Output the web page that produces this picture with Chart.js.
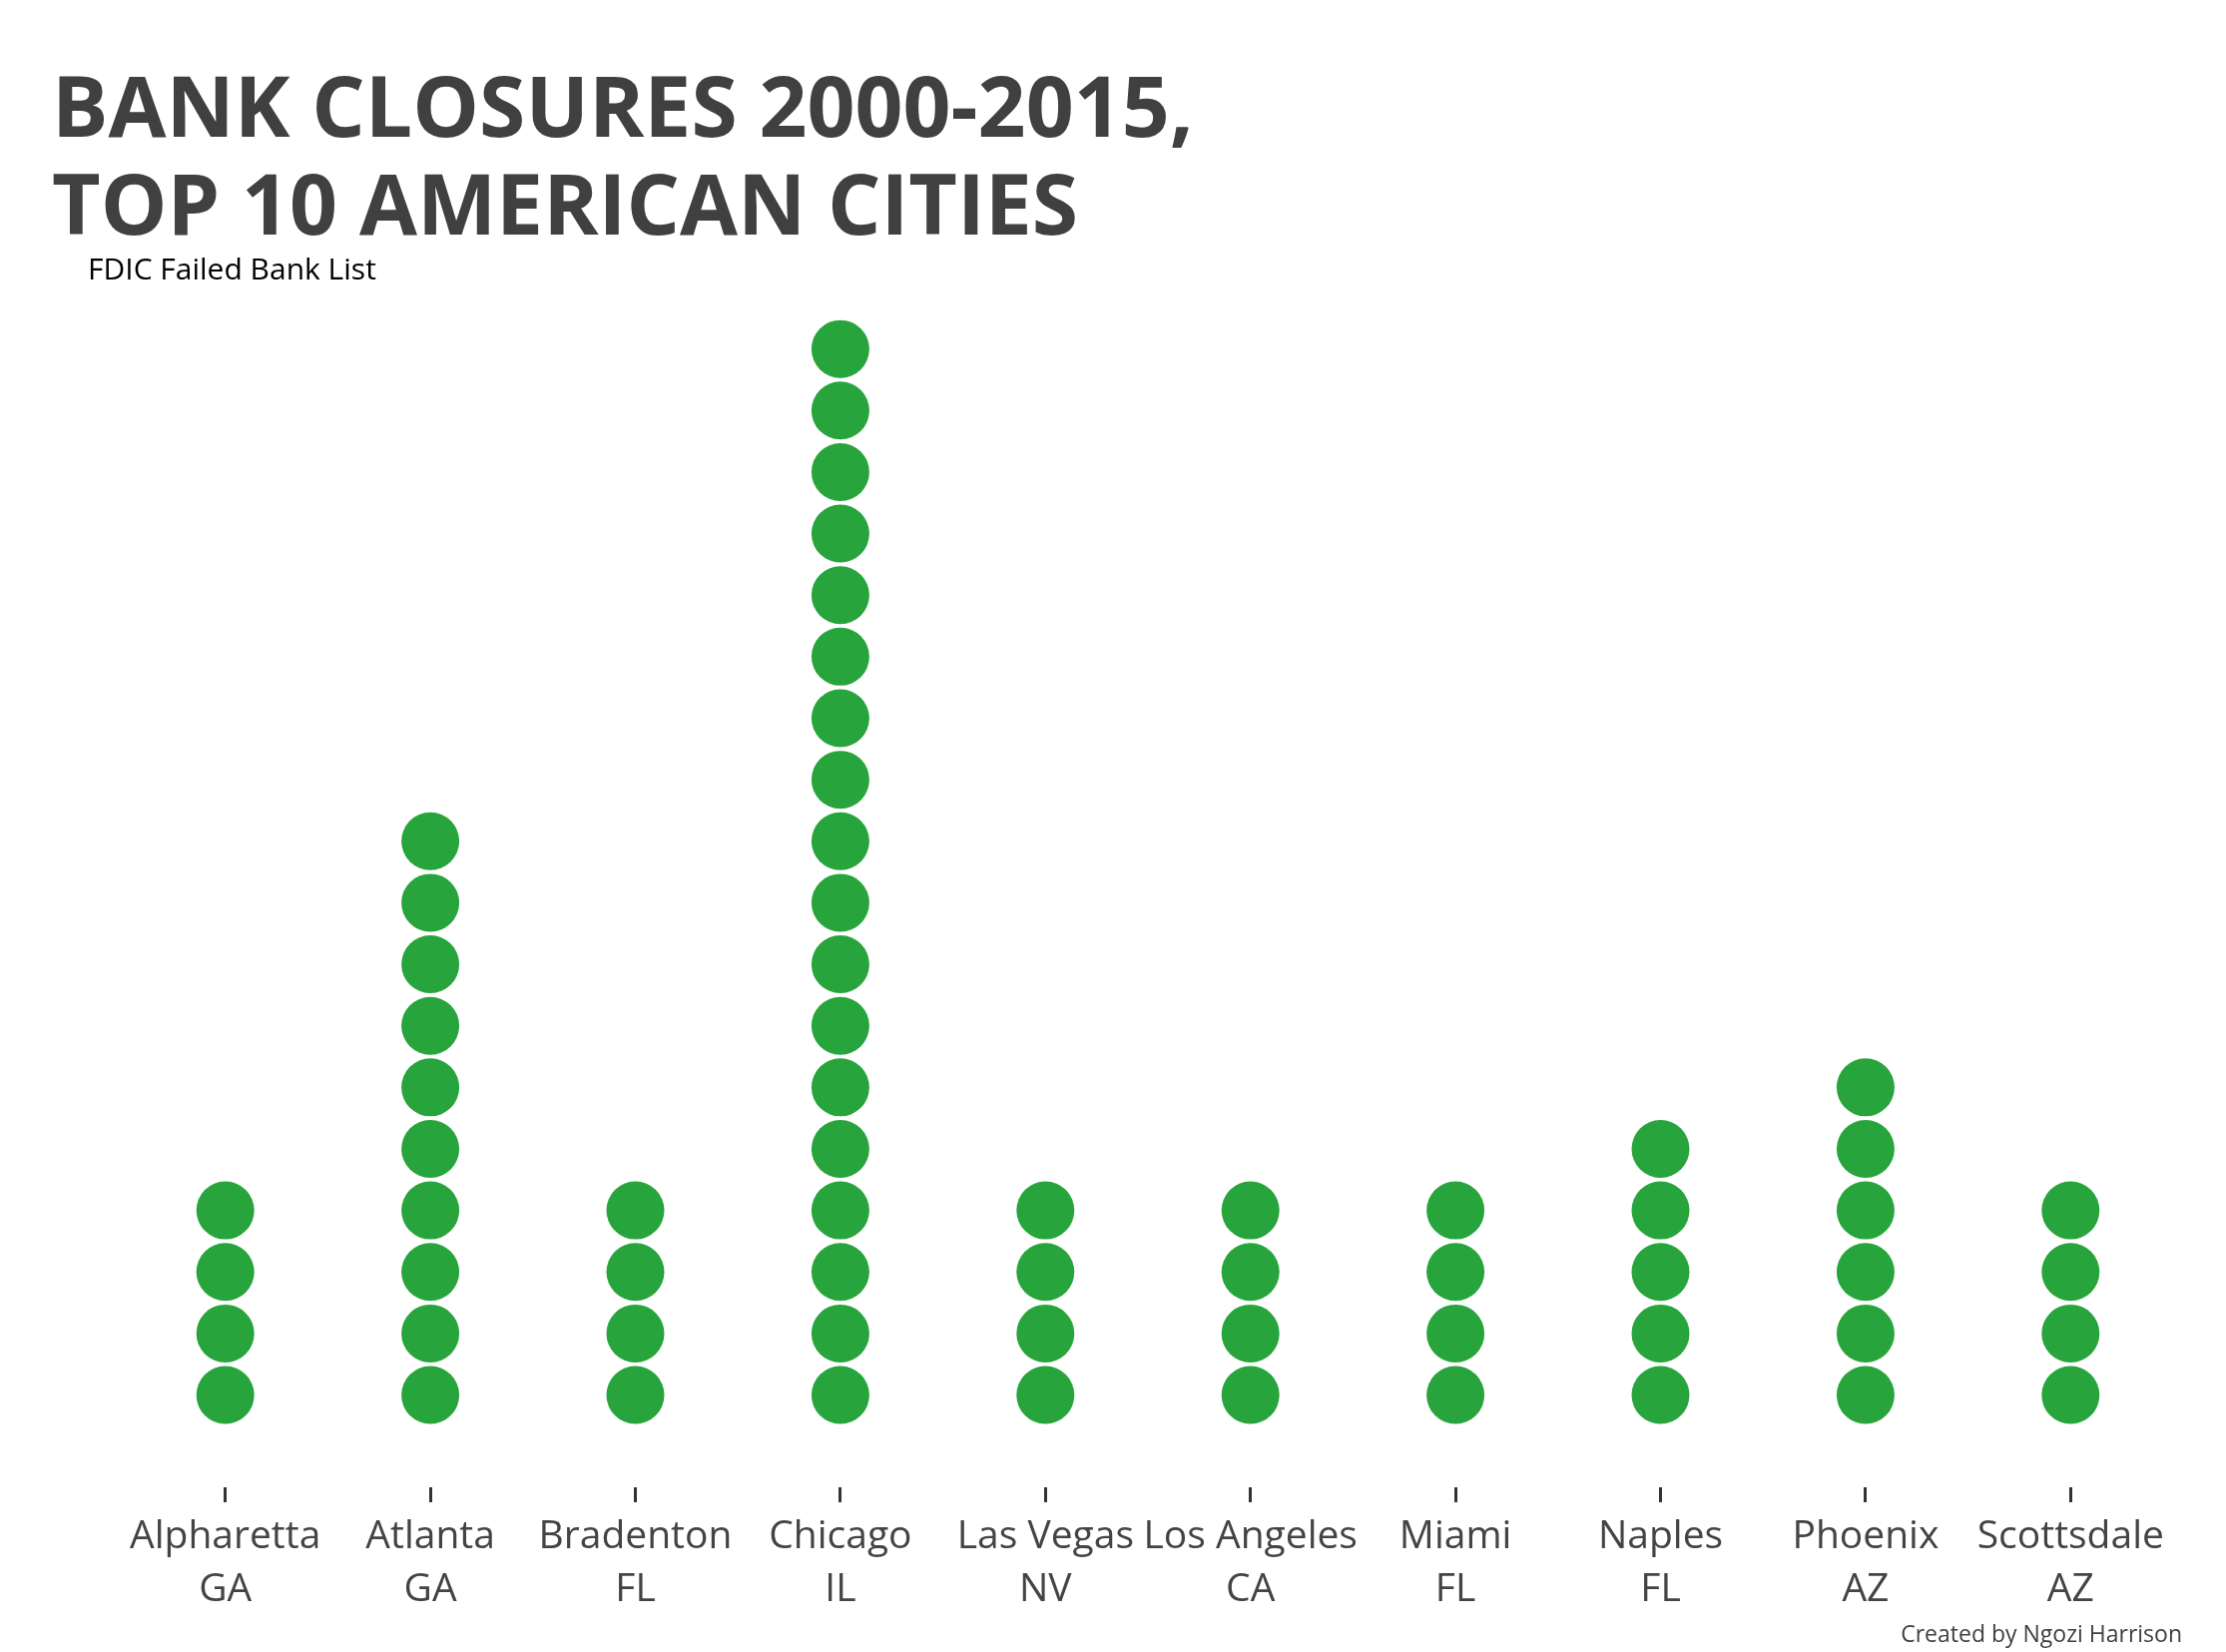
<!DOCTYPE html>
<html>
<head>
<meta charset="utf-8">
<script src="https://cdn.jsdelivr.net/npm/chart.js@4/dist/chart.umd.min.js"></script>
<style>
	body { margin:0; background:#fff; width:2230px; height:1655px; overflow:hidden; position:relative; font-family:"Open Sans", sans-serif; }
	#title { position:absolute; left:52px; top:56px; font-size:84px; line-height:98px; font-weight:700; color:#404040; white-space:nowrap; }
	#sub { position:absolute; left:88px; top:254px; font-size:30px; line-height:30px; color:#000; white-space:nowrap; }
	#credit { position:absolute; right:44px; top:1625px; font-size:23px; line-height:23px; color:#404040; white-space:nowrap; }
	#wrap { position:absolute; left:0; top:0; width:2230px; height:1655px; }
</style>
</head>
<body>
<div id="wrap"><canvas id="dotCanvas"></canvas></div>
<div id="title">BANK CLOSURES 2000-2015,<br>TOP 10 AMERICAN CITIES</div>
<div id="sub">FDIC Failed Bank List</div>
<div id="credit">Created by Ngozi Harrison</div>
<script>
	/* 도시 / 주 / 폐쇄 은행 수 */
	const cities = ['Alpharetta','Atlanta','Bradenton','Chicago','Las Vegas','Los Angeles','Miami','Naples','Phoenix','Scottsdale']
	const states = ['GA','GA','FL','IL','NV','CA','FL','FL','AZ','AZ']
	const closures = [4,10,4,18,4,4,4,5,6,4]

	// 점 하나 = 은행 하나
	let points = []
	for(let i=0;i<cities.length;i++){
		for(let k=1;k<=closures[i];k++){
			points.push({ x : cities[i], y : k })
		}
	}

	const dotChart = new Chart(document.getElementById('dotCanvas'),{
		type : 'scatter'
		,data : {
			labels : cities
			,datasets : [{
				data : points
				,pointRadius : 29
				,pointHoverRadius : 29
				,pointBackgroundColor : '#27a43b'
				,pointBorderWidth : 0
				,borderWidth : 0
			}]
		}
		,options : {
			responsive : true
			,maintainAspectRatio : false
			,animation : false
			,layout : { padding : { left : 123, right : 53, top : 288, bottom : 0 } }
			,plugins : { legend : { display : false }, tooltip : { enabled : false } }
			,scales : {
				x : {
					type : 'category'
					,labels : cities
					,offset : true
					,border : { display : false }
					,grid : { drawOnChartArea : false, drawTicks : true, tickLength : 15, color : '#333', lineWidth : 3, offset : false }
					,ticks : {
						color : '#444'
						,padding : 9
						,autoSkip : false
						,maxRotation : 0
						,font : { family : 'Open Sans', size : 39, lineHeight : 1.35 }
						,callback : function(value, index){ return [cities[index], states[index]] }
					}
					,afterFit : function(scale){ scale.height = 165 }
				}
				,y : {
					display : false
					,min : -0.5
					,max : 19
				}
			}
		}
	}) // chart-end
</script>
</body>
</html>
